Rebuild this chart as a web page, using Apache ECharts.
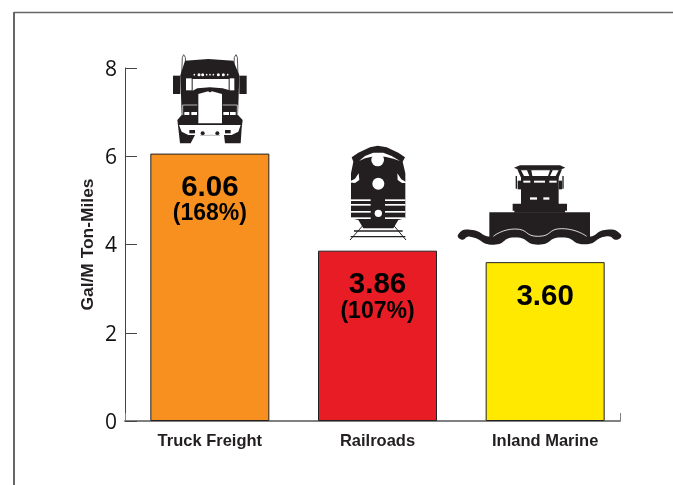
<!DOCTYPE html>
<html>
<head>
<meta charset="utf-8">
<style>html,body{margin:0;padding:0;background:#fff}#c{width:673px;height:485px}</style>
<script src="https://cdn.jsdelivr.net/npm/echarts@6/dist/echarts.min.js"></script>
</head>
<body>
<div id="c"></div>
<script>
const categories = ['Truck Freight', 'Railroads', 'Inland Marine'];
const values = [6.06, 3.86, 3.60];
const valueLabels = ['6.06', '3.86', '3.60'];
const percents = ['(168%)', '(107%)', ''];
const barColors = ['#F7901E', '#E81C24', '#FFE900'];
const yAxisName = 'Gal/M Ton-Miles';

const INK = '#231F20';
const dark = { fill: INK };
const white = { fill: '#fff' };
const rect = (x, y, width, height, style) => ({ type: 'rect', shape: { x, y, width, height }, style: style || dark });
const poly = (points, style, smooth) => ({ type: 'polygon', shape: { points, smooth: smooth || 0 }, style: style || dark });
const dot = (cx, cy, r, style) => ({ type: 'circle', shape: { cx, cy, r }, style: style || white });
const ln = (x1, y1, x2, y2, stroke, lineWidth) => ({ type: 'line', shape: { x1, y1, x2, y2 }, style: { stroke, lineWidth } });

const truck = {
  type: 'group', x: 0, y: 0, scaleX: 1 / 3, scaleY: 1 / 3, silent: true,
  children: [
    rect(519, 227, 22, 55), rect(718, 227, 22, 55),
    poly([[545, 226], [547, 172], [551, 164], [556, 172], [558, 226]], { fill: '#fff', stroke: '#555', lineWidth: 3 }),
    poly([[701, 226], [703, 172], [708, 164], [712, 172], [714, 226]], { fill: '#fff', stroke: '#555', lineWidth: 3 }),
    poly([[541, 226], [555, 182], [625, 177], [700, 182], [718, 226], [714, 345], [728, 360], [725, 385], [722, 430], [675, 430], [672, 405], [585, 405], [572, 430], [540, 430], [535, 385], [532, 360], [545, 345]]),
    rect(558, 235, 17, 36, white),
    rect(689, 235, 14, 36, white),
    poly([[578, 237], [686, 237], [686, 270], [668, 265], [630, 262], [592, 265], [578, 272]], white),
    dot(583, 224, 2.5), dot(597, 224, 4.5), dot(608, 224, 4.5), dot(620, 224, 2.5), dot(630, 224, 2.5), dot(640, 224, 2.5), dot(655, 224, 4.5), dot(670, 224, 4.5), dot(683, 224, 2.5),
    poly([[595, 282], [630, 272], [666, 282], [666, 370], [595, 370]], white),
    dot(630, 272, 5, dark),
    ln(548, 315, 592, 315, '#fff', 2), ln(548, 315, 548, 345, '#fff', 2),
    ln(668, 315, 712, 315, '#fff', 2), ln(712, 315, 712, 345, '#fff', 2),
    rect(553, 336, 15, 9, white), rect(574, 336, 17, 9, white),
    rect(670, 336, 17, 9, white), rect(690, 336, 17, 9, white),
    poly([[537, 375], [722, 375], [715, 395], [695, 405], [565, 405], [545, 395]], white),
    rect(568, 390, 17, 10), rect(675, 390, 17, 10),
    dot(608, 400, 6, dark), dot(652, 400, 6, dark),
    ln(600, 406, 660, 406, '#999', 2)
  ]
};

const stripeYs = [208, 222, 243, 262];
const train = {
  type: 'group', x: 330, y: 130, scaleX: 1 / 3, scaleY: 1 / 3, silent: true,
  children: [
    ln(100, 285, 60, 330, INK, 3), ln(190, 285, 228, 330, INK, 3),
    ln(72, 303, 218, 303, INK, 5), ln(62, 320, 226, 320, INK, 4),
    poly([[65, 82], [85, 68], [120, 52], [143, 47], [170, 52], [205, 68], [225, 82], [218, 95], [226, 130], [226, 265], [205, 270], [190, 295], [100, 295], [85, 270], [63, 265], [63, 130], [70, 95]]),
    poly([[87, 93], [105, 78], [130, 68], [160, 68], [185, 78], [210, 93], [190, 86], [165, 80], [125, 80], [105, 85]], white),
    dot(143, 90, 19),
    poly([[55, 157], [75, 146], [86, 130], [88, 150], [75, 159]], white),
    poly([[233, 159], [214, 148], [202, 130], [203, 150], [216, 159]], white),
    dot(145, 161, 18),
    ...stripeYs.flatMap(y => [rect(63, y, 59, 5, white), rect(165, y, 61, 5, white)]),
    dot(145, 250, 11)
  ]
};

const barge = {
  type: 'group', x: 330, y: 130, scaleX: 1 / 3, scaleY: 1 / 3, silent: true,
  children: [
    poly([[552, 113], [570, 106], [690, 106], [706, 113], [690, 119], [566, 119]]),
    poly([[562, 118], [696, 118], [684, 148], [575, 148]]),
    poly([[573, 121], [591, 121], [598, 138], [582, 138]], white),
    poly([[604, 121], [660, 121], [654, 138], [607, 138]], white),
    poly([[668, 121], [686, 121], [677, 138], [660, 138]], white),
    rect(573, 138, 113, 84),
    rect(557, 138, 4, 38), rect(563, 152, 10, 26), rect(697, 138, 4, 38), rect(686, 152, 10, 26),
    rect(580, 152, 21, 6, white), rect(612, 152, 33, 6, white), rect(658, 152, 22, 6, white),
    rect(600, 202, 21, 7, white), rect(640, 202, 18, 7, white),
    rect(548, 221, 163, 21), rect(553, 240, 152, 8),
    rect(478, 247, 302, 75),
    poly([[385, 313], [420, 299], [490, 320], [555, 298], [625, 320], [695, 297], [770, 320], [830, 299], [872, 313], [862, 329], [830, 319], [765, 343], [695, 322], [625, 344], [555, 322], [490, 344], [420, 320], [395, 329]], dark, 0.6),
    { type: 'polyline', shape: { points: [[490, 319], [555, 297], [625, 319], [695, 296], [770, 319]], smooth: 0.6 }, style: { stroke: '#fff', lineWidth: 2.5, fill: null } }
  ]
};

const chart = echarts.init(document.getElementById('c'), null, { renderer: 'canvas' });
chart.setOption({
  animation: false,
  backgroundColor: '#fff',
  grid: [
    { left: 126, top: 68, width: 503, height: 353 },
    { left: 125, top: 68, width: 495, height: 353 }
  ],
  xAxis: [
    {
      type: 'category', gridIndex: 0, data: categories, z: 5,
      axisLine: { show: false }, axisTick: { show: false },
      axisLabel: { margin: 12, fontFamily: 'Liberation Sans', fontWeight: 'bold', fontSize: 16.5, color: '#231F20' }
    },
    {
      type: 'value', gridIndex: 1, min: 0, max: 1, interval: 1,
      axisLine: { show: true, lineStyle: { color: '#808080', width: 2 } },
      axisTick: { show: true, inside: true, length: 8, lineStyle: { color: '#808080', width: 1 } },
      axisLabel: { show: false }, splitLine: { show: false }
    }
  ],
  yAxis: [
    {
      type: 'value', gridIndex: 0, min: 0, max: 8, interval: 2, offset: 1,
      name: yAxisName, nameLocation: 'middle', nameGap: 28, nameRotate: 90, nameMoveOverlap: false,
      nameTextStyle: { fontFamily: 'Liberation Sans', fontWeight: 'bold', fontSize: 17.4, color: '#231F20' },
      axisLine: { show: true, lineStyle: { color: '#444', width: 1 } },
      axisTick: { show: true, inside: true, length: 12, lineStyle: { color: '#444', width: 1 } },
      axisLabel: {
        margin: 8, formatter: '{n|{value}}',
        rich: { n: { fontFamily: 'Open Sans', fontSize: 21, color: '#111', padding: [4, 0, 0, 0] } }
      },
      splitLine: { show: false }
    },
    { type: 'value', gridIndex: 1, min: 0, max: 1, show: false }
  ],
  series: [{
    type: 'bar', xAxisIndex: 0, yAxisIndex: 0, barWidth: 119, z: 3,
    data: values.map((v, i) => ({
      value: v,
      itemStyle: { color: barColors[i], borderColor: '#222', borderWidth: 1 },
      label: {
        show: true, position: 'insideTop', distance: 21,
        formatter: '{v|' + valueLabels[i] + '}' + (percents[i] ? '\n{p|' + percents[i] + '}' : ''),
        rich: {
          v: { fontFamily: 'Liberation Sans', fontWeight: 'bold', fontSize: 29.5, lineHeight: 27, color: '#000' },
          p: { fontFamily: 'Liberation Sans', fontWeight: 'bold', fontSize: 23, lineHeight: 25, color: '#000' }
        }
      }
    }))
  }],
  graphic: [
    { type: 'line', silent: true, shape: { x1: 14, y1: 12.5, x2: 673, y2: 12.5 }, style: { stroke: '#666', lineWidth: 1.5 } },
    { type: 'line', silent: true, shape: { x1: 14, y1: 12, x2: 14, y2: 485 }, style: { stroke: '#666', lineWidth: 2 } },
    truck, train, barge
  ]
});
</script>
</body>
</html>
